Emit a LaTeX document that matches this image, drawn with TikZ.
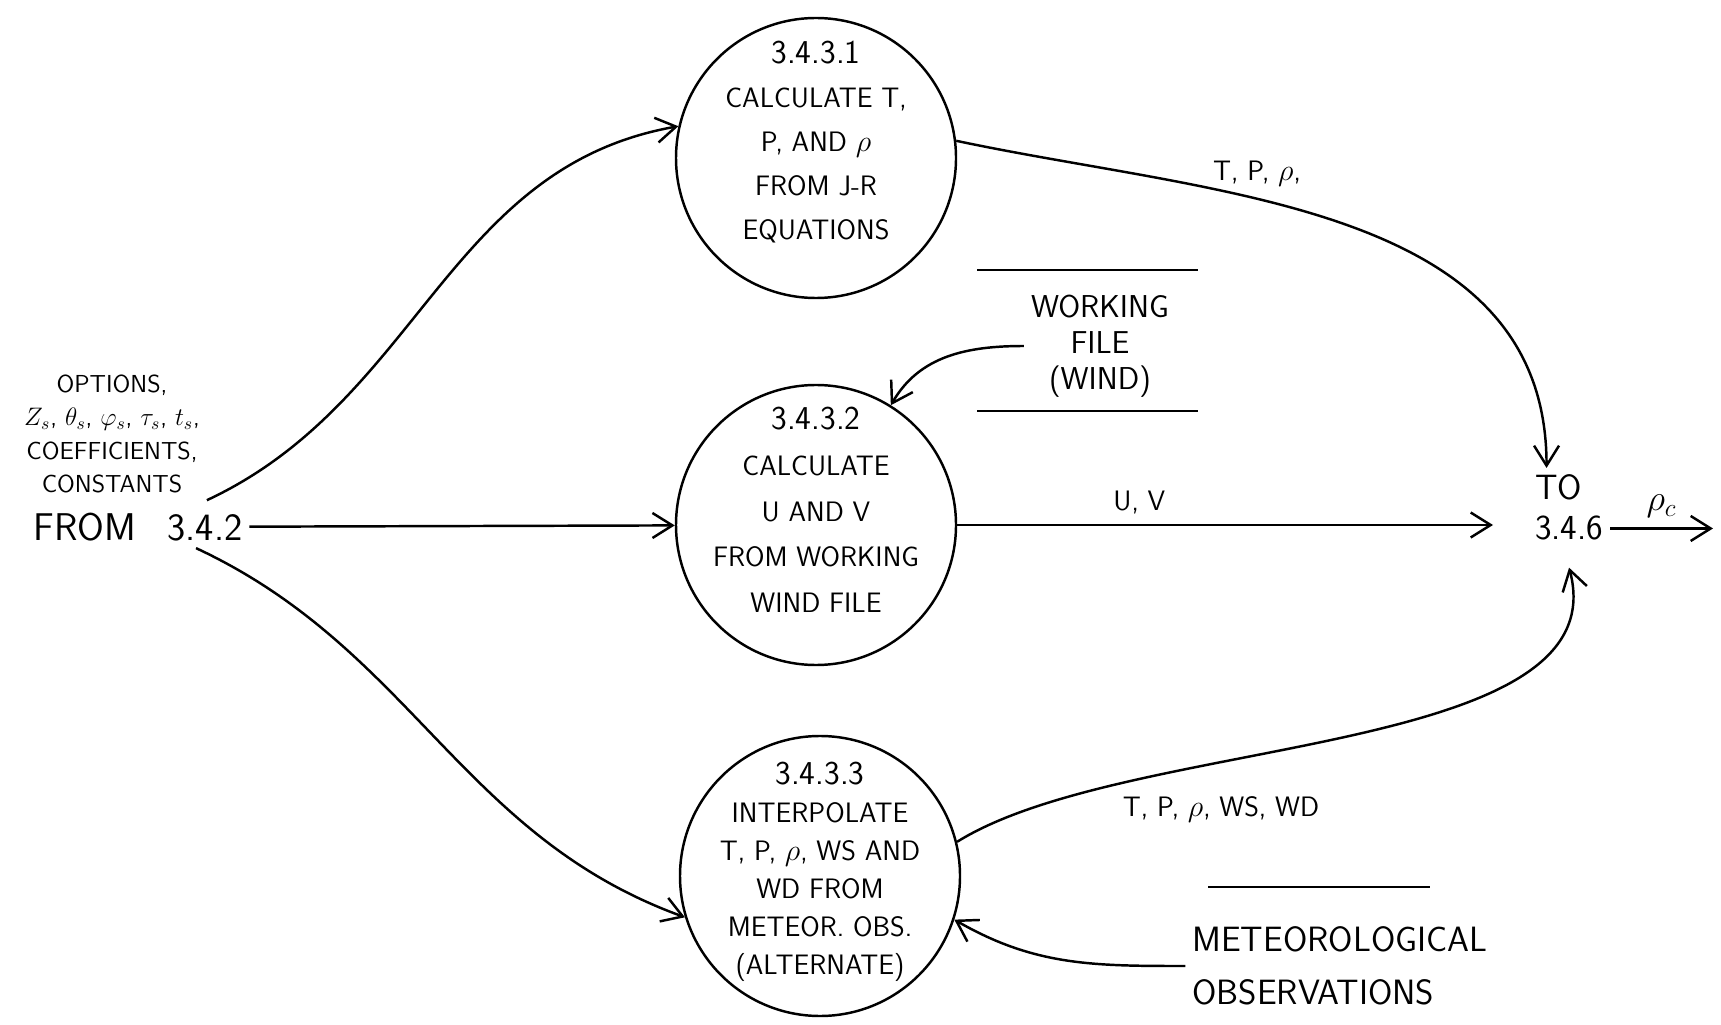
\documentclass[tikz,border=0pt]{standalone}
\usepackage{amsmath}
\usepackage{tikz}
\usetikzlibrary{arrows.meta,positioning,calc}

\begin{document}
\begin{tikzpicture}[
x=0.2mm, y=0.2mm,
line width=1.4pt,
proc/.style={
  draw,
  circle,
  minimum size=5.6cm,
  inner sep=0pt
  },
proctext/.style={
  align=center,
  font=\sffamily\fontsize{16}{25}\selectfont
  },
store/.style={
  align=center,
  font=\sffamily\fontsize{18}{20.5}\selectfont
  },
flowlabel/.style={
  font=\sffamily\fontsize{16}{19}\selectfont
  },
dest/.style={
  anchor=base west,
  font=\sffamily\fontsize{20}{24}\selectfont
  },
>={Straight Barb[length=4mm,width=5mm]}
]
\useasboundingbox (0,0) rectangle (1721,1024);

% processes
\node[proc] (p1) at (816,866) {};
\node[proctext] (p1t) at (816,882)
  {{\fontsize{19}{25}\selectfont 3.4.3.1}\\CALCULATE T,\\P, AND $\rho$\\FROM J-R\\EQUATIONS};
\node[proc] (p2) at (816,499) {};
\node[proctext, font=\sffamily\fontsize{16}{26}\selectfont] (p2t) at (816,514)
  {{\fontsize{19}{26}\selectfont 3.4.3.2}\\CALCULATE\\U AND V\\FROM WORKING\\WIND FILE};
\node[proc] (p3) at (820,148) {};
\node[proctext, font=\sffamily\fontsize{16}{21.6}\selectfont] (p3t) at (820,152)
  {{\fontsize{19}{21.6}\selectfont 3.4.3.3}\\INTERPOLATE\\T, P, $\rho$, WS AND\\WD FROM\\METEOR. OBS.\\(ALTERNATE)};

% data stores
\node[store] (wf) at (1100,678) {WORKING\\FILE\\(WIND)};
\draw (977,754) -- (1198,754);
\draw (977,613) -- (1198,613);

\node[store, align=left, font=\sffamily\fontsize{20}{30}\selectfont] (mo) at (1340,58)
  {METEOROLOGICAL\\OBSERVATIONS};
\draw (1208,137) -- (1430,137);

% source and destination
\node[align=center, font=\sffamily\fontsize{14}{19}\selectfont] (inp) at (112,590)
  {OPTIONS,\\$Z_s$, $\theta_s$, $\varphi_s$, $\tau_s$, $t_s$,\\COEFFICIENTS,\\CONSTANTS};
\node[font=\sffamily\fontsize{22}{26}\selectfont] (src) at (138,497) {FROM\hspace{0.5em} 3.4.2};

\node[dest] (to1) at (1528,524) {TO};
\node[dest] (to2) at (1528,484) {3.4.6};
\coordinate (exit) at (1713,500);

% flows
\draw[->] (inp.south east) to[out=25,in=190] (p1.167);
\draw[->] (src) -- (p2);
\draw[->] (src.-20) to[out=-25,in=160] (p3.197);

\draw[->] (wf.west) to[out=180,in=60] (p2.58);
\draw[->] (mo.west) to[out=180,in=-30] (p3.-18);

\draw[->] (p1.7) to[out=-12,in=90] ([xshift=-2.4mm]to1.north);
\node[flowlabel] (l1) at (1257,850) {T, P, $\rho$,};

\draw[->] (p2.east) -- ($(p2.east -| to2.west)+(-35,0)$)
  node[flowlabel, pos=0.34, above=2pt] (l2) {U, V};

\draw[->] (p3.14) .. controls (1130,290) and (1620,265) .. ([yshift=-4mm]to2.south);
\node[flowlabel] (l3) at (1221,215) {T, P, $\rho$, WS, WD};

\draw[->] (to2.east) -- (to2.east -| exit)
  node[midway, above=2pt, font=\fontsize{22}{24}\selectfont] (l4) {$\rho_c$};

\end{tikzpicture}
\end{document}
